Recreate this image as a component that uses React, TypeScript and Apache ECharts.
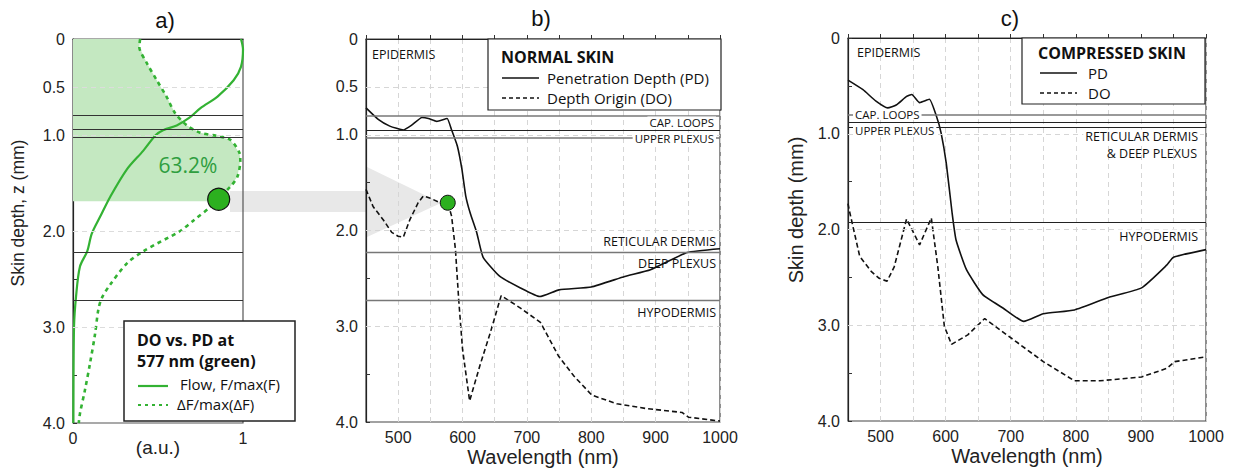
import React, { useEffect, useRef } from 'react';
import * as echarts from 'echarts';

// ---------- Panel a data (x: a.u., z: depth mm) ----------
const flowX = [0.988, 1.0, 0.988, 0.945, 0.85, 0.75, 0.685, 0.61, 0.53, 0.487, 0.415, 0.316, 0.22, 0.16, 0.11, 0.084, 0.041, 0.018, 0.006, 0.002];
const flowZ = [0, 0.11, 0.29, 0.43, 0.6, 0.72, 0.82, 0.9, 0.95, 1.0, 1.16, 1.36, 1.64, 1.85, 2.03, 2.21, 2.37, 2.68, 3.0, 4.0];
const dfX = [0.395, 0.39, 0.434, 0.493, 0.55, 0.6, 0.67, 0.748, 0.847, 0.925, 0.98, 0.984, 0.968, 0.925, 0.866, 0.807, 0.709, 0.63, 0.414, 0.316, 0.218, 0.169, 0.149, 0.13, 0.1, 0.07, 0.041, 0.034];
const dfZ = [0, 0.08, 0.25, 0.43, 0.6, 0.77, 0.9, 0.976, 1.01, 1.05, 1.19, 1.26, 1.43, 1.54, 1.64, 1.75, 1.89, 2.0, 2.21, 2.34, 2.56, 2.7, 2.82, 3.07, 3.38, 3.66, 3.9, 4.0];
const fillDepth = 1.69;
const markerA = [0.857, 1.67];
const layersA = [0.79, 0.94, 1.02, 2.22, 2.72];
const gridA = [0.5, 1.0, 2.0, 3.0];
const ticksA = [0, 0.5, 1, 2, 3, 4];

// ---------- Panel b data (normal skin) ----------
const pdBWl = [450, 469, 487, 508, 521, 537, 547, 560, 576, 583, 592, 599, 605, 612, 622, 632, 658, 690, 720, 750, 800, 852, 892, 949, 1000];
const pdBD = [0.72, 0.84, 0.91, 0.95, 0.9, 0.82, 0.83, 0.86, 0.83, 0.95, 1.12, 1.36, 1.64, 1.82, 2.02, 2.28, 2.48, 2.6, 2.69, 2.62, 2.59, 2.48, 2.41, 2.23, 2.19];
const doBWl = [450, 461, 477, 490, 500, 508, 518, 531, 539, 549, 565, 577, 583, 589, 594, 600, 611, 627, 643, 660, 690, 721, 749, 773, 801, 840, 886, 941, 951, 1000];
const doBD = [1.57, 1.75, 1.89, 2.02, 2.06, 2.07, 1.89, 1.71, 1.64, 1.66, 1.71, 1.71, 1.85, 2.2, 2.72, 3.24, 3.78, 3.41, 3.07, 2.68, 2.81, 2.96, 3.31, 3.52, 3.72, 3.81, 3.86, 3.9, 3.95, 3.99];
const markerB = [577, 1.71];
const layersB = [0.8, 0.95, 1.03, 2.23, 2.73];
const layerWidthB = [1.6, 1, 1.6, 1.4, 1.4];
const gridB = [0.5, 1.0, 2.0, 3.0];
const ticksB = [0, 0.5, 1, 2, 3, 4];

// ---------- Panel c data (compressed skin) ----------
const pdCWl = [450, 473, 493, 511, 524, 540, 548, 560, 575, 586, 593, 601, 610, 616, 632, 657, 688, 720, 750, 798, 850, 901, 940, 950, 1000];
const pdCD = [0.44, 0.54, 0.66, 0.73, 0.7, 0.61, 0.59, 0.675, 0.64, 0.82, 0.99, 1.31, 1.83, 2.11, 2.42, 2.68, 2.82, 2.96, 2.88, 2.84, 2.71, 2.61, 2.37, 2.29, 2.21];
const doCWl = [450, 452, 468, 486, 498, 510, 521, 540, 560, 578, 588, 598, 609, 634, 660, 704, 750, 798, 837, 901, 940, 952, 1000];
const doCD = [1.73, 1.8, 2.28, 2.44, 2.51, 2.54, 2.39, 1.89, 2.16, 1.88, 2.39, 3.01, 3.2, 3.1, 2.93, 3.15, 3.38, 3.58, 3.58, 3.54, 3.45, 3.38, 3.33];
const layersC = [0.8, 0.88, 0.925, 1.92];
const layerWidthC = [1.6, 1, 1, 1];
const gridC = [1.0, 2.0, 3.0];
const ticksC = [0, 1, 2, 3, 4];

const GREEN = '#33b233';
const FILL = '#c4e8c1';
const TICK_FONT = '"Liberation Sans", Arial, sans-serif';
const LABEL_FONT = '"Open Sans", sans-serif';

const zip = (a: number[], b: number[]) => a.map((v, i) => [v, b[i]]);

function fillPolygon(): number[][] {
  const pts: number[][] = [[0, 0]];
  for (let i = 0; i < dfX.length; i++) {
    if (dfZ[i] <= fillDepth) {
      pts.push([dfX[i], dfZ[i]]);
    } else {
      const t = (fillDepth - dfZ[i - 1]) / (dfZ[i] - dfZ[i - 1]);
      pts.push([dfX[i - 1] + t * (dfX[i] - dfX[i - 1]), fillDepth]);
      break;
    }
  }
  pts.push([0, fillDepth]);
  return pts;
}

const depthFmt = (show: number[]) => (v: number) =>
  show.some((s) => Math.abs(s - v) < 1e-6) ? (v === 0 ? '0' : v.toFixed(1)) : '';

function yAxis(grid: number, show: number[]) {
  return {
    type: 'value', gridIndex: grid, min: 0, max: 4, interval: 0.5, inverse: true,
    axisLine: { show: true, lineStyle: { color: '#222', width: 1.2 } },
    axisTick: { show: true, inside: true, length: 4, lineStyle: { color: '#333' } },
    axisLabel: { formatter: depthFmt(show), fontFamily: TICK_FONT, fontSize: 16, color: '#222', margin: 8 },
    splitLine: { show: false },
  };
}

function wlAxis(grid: number) {
  return {
    type: 'value', gridIndex: grid, min: 450, max: 1000, interval: 50,
    name: 'Wavelength (nm)', nameLocation: 'middle', nameGap: 25, nameMoveOverlap: false,
    nameTextStyle: { fontFamily: TICK_FONT, fontSize: 20, color: '#222' },
    axisLine: { show: true, lineStyle: { color: '#222', width: 1.2 } },
    axisTick: { show: true, inside: true, length: 4, lineStyle: { color: '#333' } },
    axisLabel: {
      formatter: (v: number) => (v % 100 === 0 ? String(v) : ''),
      fontFamily: TICK_FONT, fontSize: 16, color: '#222', margin: 7,
    },
    splitLine: { show: true, lineStyle: { color: '#d6d6d6', type: [5, 4], width: 1 } },
  };
}

function markLines(grid: number, values: number[], style: any, widths?: number[]) {
  return {
    type: 'line', xAxisIndex: grid, yAxisIndex: grid, data: [], silent: true, z: 1,
    markLine: {
      silent: true, symbol: 'none', label: { show: false }, animation: false,
      lineStyle: style,
      data: values.map((v, i) => ({ yAxis: v, lineStyle: widths ? { width: widths[i], color: widths[i] > 1.2 ? '#777' : '#222' } : undefined })),
    },
  };
}

function lineSeries(grid: number, data: number[][], color: string, width: number, dashed: any, smooth: number) {
  return {
    type: 'line', xAxisIndex: grid, yAxisIndex: grid, data, showSymbol: false, symbol: 'none',
    smooth, z: 3, silent: true,
    lineStyle: { color, width, type: dashed || 'solid' },
  };
}

function txt(text: string, x: number, y: number, size: number, align = 'left', opts: any = {}) {
  return {
    type: 'text', x, y, z: 20, silent: true, rotation: opts.rotation || 0,
    style: {
      text, fontSize: size, fontFamily: opts.family || LABEL_FONT, fontWeight: opts.bold ? 'bold' : 'normal',
      fill: opts.color || '#111', align, textAlign: align, verticalAlign: 'middle', textVerticalAlign: 'middle',
      backgroundColor: opts.bg, padding: opts.bg ? [0, 2] : undefined, lineHeight: opts.lh,
    },
  };
}

function hline(x1: number, x2: number, y: number, color: string, width: number, dash?: number[]) {
  return { type: 'line', z: 20, silent: true, shape: { x1, y1: y, x2, y2: y }, style: { stroke: color, lineWidth: width, lineDash: dash } };
}

function box(x: number, y: number, w: number, h: number, lw = 1.2) {
  return { type: 'rect', z: 19, silent: true, shape: { x, y, width: w, height: h }, style: { fill: '#fff', stroke: '#222', lineWidth: lw } };
}

export default function App() {
  const ref = useRef<HTMLDivElement>(null);
  useEffect(() => {
    const chart = echarts.init(ref.current!, null, { renderer: 'svg' });
    const fillPts = fillPolygon();
    const option: any = {
      animation: false,
      backgroundColor: '#fff',
      grid: [
        { left: 73, top: 39, width: 170, height: 384, show: true, borderColor: '#555', borderWidth: 1.2, backgroundColor: 'transparent' },
        { left: 366, top: 39, width: 354, height: 383, show: true, borderColor: '#444', borderWidth: 1.2, backgroundColor: 'transparent' },
        { left: 848, top: 38, width: 358, height: 383, show: true, borderColor: '#444', borderWidth: 1.2, backgroundColor: 'transparent' },
      ],
      xAxis: [
        {
          type: 'value', gridIndex: 0, min: 0, max: 1, interval: 1,
          name: '(a.u.)', nameLocation: 'middle', nameGap: 15, nameMoveOverlap: false,
          nameTextStyle: { fontFamily: TICK_FONT, fontSize: 19, color: '#222' },
          axisLine: { show: true, lineStyle: { color: '#222' } },
          axisTick: { show: false },
          axisLabel: { fontFamily: TICK_FONT, fontSize: 16, color: '#222', margin: 7, formatter: (v: number) => String(v) },
          splitLine: { show: false },
        },
        wlAxis(1),
        wlAxis(2),
      ],
      yAxis: [yAxis(0, ticksA), yAxis(1, ticksB), yAxis(2, ticksC)],
      series: [
        // grid (dashed) lines
        markLines(0, gridA, { color: '#dcdcdc', type: [5, 4], width: 1 }),
        markLines(1, gridB, { color: '#d6d6d6', type: [5, 4], width: 1 }),
        markLines(2, gridC, { color: '#d6d6d6', type: [5, 4], width: 1 }),
        // panel a fill
        {
          type: 'custom', xAxisIndex: 0, yAxisIndex: 0, data: [[0, 0]], z: 1, silent: true,
          renderItem: (params: any, api: any) => ({
            type: 'polygon',
            shape: { points: fillPts.map((p) => api.coord(p)) },
            style: { fill: FILL },
          }),
        },
        // layer boundaries
        markLines(0, layersA, { color: '#333', type: 'solid', width: 1 }),
        markLines(1, layersB, { color: '#333', type: 'solid', width: 1 }, layerWidthB),
        markLines(2, layersC, { color: '#333', type: 'solid', width: 1 }, layerWidthC),
        // panel a curves
        lineSeries(0, zip(flowX, flowZ), GREEN, 2.2, null, 0.3),
        lineSeries(0, zip(dfX, dfZ), GREEN, 2.6, [4, 4], 0.3),
        {
          type: 'scatter', xAxisIndex: 0, yAxisIndex: 0, data: [markerA], symbolSize: 22, z: 5, silent: true,
          itemStyle: { color: '#2cb01f', borderColor: '#111', borderWidth: 1.2, opacity: 1 },
        },
        // panel b curves
        lineSeries(1, zip(pdBWl, pdBD), '#111', 1.6, null, 0.15),
        lineSeries(1, zip(doBWl, doBD), '#111', 1.6, [5, 3], 0),
        {
          type: 'scatter', xAxisIndex: 1, yAxisIndex: 1, data: [markerB], symbolSize: 15, z: 5, silent: true,
          itemStyle: { color: '#2cb01f', borderColor: '#111', borderWidth: 1, opacity: 1 },
        },
        // panel c curves
        lineSeries(2, zip(pdCWl, pdCD), '#111', 1.6, null, 0.15),
        lineSeries(2, zip(doCWl, doCD), '#111', 1.6, [5, 3], 0),
      ],
      graphic: [
        // arrow from a to b
        { type: 'rect', z: -1, silent: true, shape: { x: 230, y: 191, width: 137, height: 21 }, style: { fill: '#e8e8e8' } },
        { type: 'polygon', z: -1, silent: true, shape: { points: [[367, 167], [441, 203], [367, 237]] }, style: { fill: '#e8e8e8' } },
        // titles
        txt('a)', 165, 20, 22, 'center', { family: TICK_FONT, color: '#111' }),
        txt('b)', 541, 18, 22, 'center', { family: TICK_FONT, color: '#111' }),
        txt('c)', 1010, 18, 22, 'center', { family: TICK_FONT, color: '#111' }),
        // y-axis names
        txt('Skin depth, z (mm)', 18, 213, 17.5, 'center', { family: TICK_FONT, color: '#222', rotation: Math.PI / 2 }),
        txt('Skin depth (mm)', 796, 210, 20, 'center', { family: TICK_FONT, color: '#222', rotation: Math.PI / 2 }),
        // panel a annotation
        txt('63.2%', 188, 165, 21, 'center', { color: '#2f9e3f' }),
        // panel a legend
        box(124, 321, 171, 100, 1.5),
        txt('DO vs. PD at', 137, 340, 16, 'left', { bold: true }),
        txt('577 nm (green)', 137, 361, 16, 'left', { bold: true }),
        hline(138, 168, 386, GREEN, 2.2),
        hline(138, 168, 405, GREEN, 2.2, [3, 4]),
        txt('Flow, F/max(F)', 180, 384, 15),
        txt('ΔF/max(ΔF)', 177, 404, 15),
        // panel b legend
        box(488, 39, 233, 71),
        txt('NORMAL SKIN', 501, 57, 16, 'left', { bold: true }),
        hline(502, 539, 78, '#111', 1.6),
        hline(502, 539, 98, '#111', 1.6, [4, 3]),
        txt('Penetration Depth (PD)', 547, 78, 15),
        txt('Depth Origin (DO)', 547, 98, 15),
        // panel b layer labels
        txt('EPIDERMIS', 372, 54, 12.5),
        txt('CAP. LOOPS', 716, 122.5, 11.5, 'right', { bg: '#fff', lh: 12 }),
        txt('UPPER PLEXUS', 716, 138.5, 11.5, 'right', { bg: '#fff', lh: 12 }),
        txt('RETICULAR DERMIS', 716, 241, 12.5, 'right'),
        txt('DEEP PLEXUS', 716, 263, 12.5, 'right'),
        txt('HYPODERMIS', 716, 312, 12.5, 'right'),
        // panel c legend
        box(1022, 38, 183, 66),
        txt('COMPRESSED SKIN', 1038, 53, 16, 'left', { bold: true }),
        hline(1040, 1077, 73, '#111', 1.6),
        hline(1040, 1077, 93, '#111', 1.6, [4, 3]),
        txt('PD', 1088, 73, 15),
        txt('DO', 1088, 93, 15),
        // panel c layer labels
        txt('EPIDERMIS', 857, 52, 12.5),
        txt('CAP. LOOPS', 853, 114.5, 11.5, 'left', { bg: '#fff', lh: 11 }),
        txt('UPPER PLEXUS', 853, 130, 11.5, 'left', { bg: '#fff', lh: 11 }),
        txt('RETICULAR DERMIS', 1200, 136, 12.5, 'right', { bg: '#fff', lh: 13 }),
        txt('& DEEP PLEXUS', 1197, 153, 12.5, 'right', { lh: 13 }),
        txt('HYPODERMIS', 1200, 236, 12.5, 'right', { bg: '#fff' }),
      ],
    };
    chart.setOption(option);
    return () => chart.dispose();
  }, []);
  return <div ref={ref} style={{ position: 'fixed', left: 0, top: 0, width: 1242, height: 472, background: '#fff' }} />;
}
